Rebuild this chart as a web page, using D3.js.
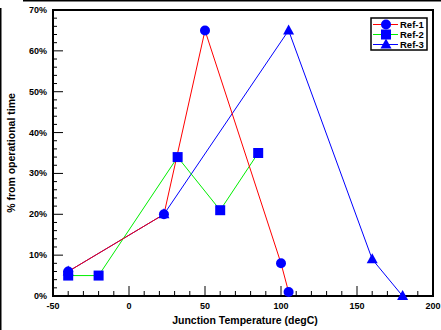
<!DOCTYPE html>
<html lang="en">
  <head>
    <meta charset="utf-8" />
    <title>Junction Temperature profile</title>
    <script src="https://cdnjs.cloudflare.com/ajax/libs/d3/7.8.5/d3.min.js"></script>
    <style>
      body { margin: 0; background: #fff; }
      text { font-family: "Liberation Sans", Arial, sans-serif; font-weight: bold; }
    </style>
  </head>
  <body>
    <script>
      // data
      const seriesNames = ['Ref-1', 'Ref-2', 'Ref-3'];
      const seriesColors = ['#ff0000', '#00ee00', '#0000ff'];
      const seriesShapes = ['circle', 'square', 'triangle'];
      const ref1 = [[-40, 6], [23, 20], [50, 65], [100, 8], [105, 1]];
      const ref2 = [[-40, 5], [-20, 5], [32, 34], [60, 21], [85, 35]];
      const ref3 = [[-40, 6], [23, 20], [105, 65], [160, 9], [180, 0]];
      const xTicks = [-50, 0, 50, 100, 150, 200];
      const yTicks = [0, 10, 20, 30, 40, 50, 60, 70];

      const width = 441;
      const height = 330;
      const marginTop = 10;
      const marginRight = 8;
      const marginBottom = 34;
      const marginLeft = 53;

      const svg = d3.select('body')
        .append('svg')
        .attr('width', width)
        .attr('height', height)
        .attr('viewBox', [0, 0, width, height]);

      // outer frame bits (top and left edges)
      svg.append('line').attr('x1', 23).attr('x2', width).attr('y1', 0.5).attr('y2', 0.5)
        .attr('stroke', '#000').attr('stroke-width', 2);
      svg.append('line').attr('x1', 0.5).attr('x2', 0.5).attr('y1', 8).attr('y2', height)
        .attr('stroke', '#000').attr('stroke-width', 2);

      const x = d3.scaleLinear()
        .domain([-50, 200])
        .range([marginLeft, width - marginRight]);

      const y = d3.scaleLinear()
        .domain([0, 70])
        .range([height - marginBottom, marginTop]);

      // minor ticks, inward
      const ticks = svg.append('g').attr('stroke', '#000').attr('stroke-width', 1);
      ticks.selectAll('.xt')
        .data(d3.range(-50, 201, 10))
        .join('line')
        .attr('x1', d => x(d)).attr('x2', d => x(d))
        .attr('y1', y(0))
        .attr('y2', d => y(0) - (d % 50 === 0 ? 10 : 5));
      ticks.selectAll('.yt')
        .data(d3.range(0, 71, 2))
        .join('line')
        .attr('y1', d => y(d)).attr('y2', d => y(d))
        .attr('x1', x(-50))
        .attr('x2', d => x(-50) + (d % 10 === 0 ? 10 : 4));

      // plot frame
      svg.append('rect')
        .attr('x', x(-50)).attr('y', y(70))
        .attr('width', x(200) - x(-50)).attr('height', y(0) - y(70))
        .attr('fill', 'none').attr('stroke', '#000').attr('stroke-width', 2);

      // tick labels
      svg.append('g')
        .selectAll('text')
        .data(xTicks)
        .join('text')
        .attr('x', d => x(d))
        .attr('y', y(0) + 13)
        .attr('text-anchor', 'middle')
        .attr('font-size', 9)
        .text(d => d);

      svg.append('g')
        .selectAll('text')
        .data(yTicks)
        .join('text')
        .attr('x', x(-50) - 6)
        .attr('y', d => y(d) + 3)
        .attr('text-anchor', 'end')
        .attr('font-size', 9)
        .text(d => d + '%');

      // axis titles
      svg.append('text')
        .attr('x', (x(-50) + x(200)) / 2 + 2)
        .attr('y', 324)
        .attr('text-anchor', 'middle')
        .attr('font-size', 10.5)
        .text('Junction Temperature (degC)');

      svg.append('text')
        .attr('transform', `translate(15, ${(y(0) + y(70)) / 2}) rotate(-90)`)
        .attr('text-anchor', 'middle')
        .attr('font-size', 10.5)
        .text('% from operational time');

      const allSeries = [ref1, ref2, ref3];
      const line = d3.line().x(d => x(d[0])).y(d => y(d[1]));

      // lines, red ends up on top
      svg.append('g')
        .attr('fill', 'none')
        .attr('stroke-width', 1)
        .selectAll('path')
        .data([2, 1, 0])
        .join('path')
        .attr('stroke', i => seriesColors[i])
        .attr('d', i => line(allSeries[i]));

      function marker(g, shape, cx, cy) {
        if (shape === 'circle') {
          g.append('circle').attr('cx', cx).attr('cy', cy).attr('r', 5).attr('fill', '#0000ff');
        } else if (shape === 'square') {
          g.append('rect').attr('x', cx - 5).attr('y', cy - 5).attr('width', 10).attr('height', 10).attr('fill', '#0000ff');
        } else {
          g.append('path')
            .attr('d', `M${cx},${cy - 6}L${cx + 5.5},${cy + 4}L${cx - 5.5},${cy + 4}Z`)
            .attr('fill', '#0000ff');
        }
      }

      const marks = svg.append('g');
      [2, 1, 0].forEach(i => {
        allSeries[i].forEach(d => marker(marks, seriesShapes[i], x(d[0]), y(d[1])));
      });

      // legend
      const legend = svg.append('g').attr('transform', 'translate(371, 18)');
      legend.append('rect')
        .attr('width', 56).attr('height', 32)
        .attr('fill', '#fff').attr('stroke', '#000').attr('stroke-width', 1.5);
      seriesNames.forEach((name, i) => {
        const ly = 6.5 + i * 10;
        legend.append('line')
          .attr('x1', 2).attr('x2', 27).attr('y1', ly).attr('y2', ly)
          .attr('stroke', seriesColors[i]).attr('stroke-width', 1);
        marker(legend, seriesShapes[i], 15, ly);
        legend.append('text')
          .attr('x', 29).attr('y', ly + 3.5)
          .attr('font-size', 9.5)
          .text(name);
      });
    </script>
  </body>
</html>
